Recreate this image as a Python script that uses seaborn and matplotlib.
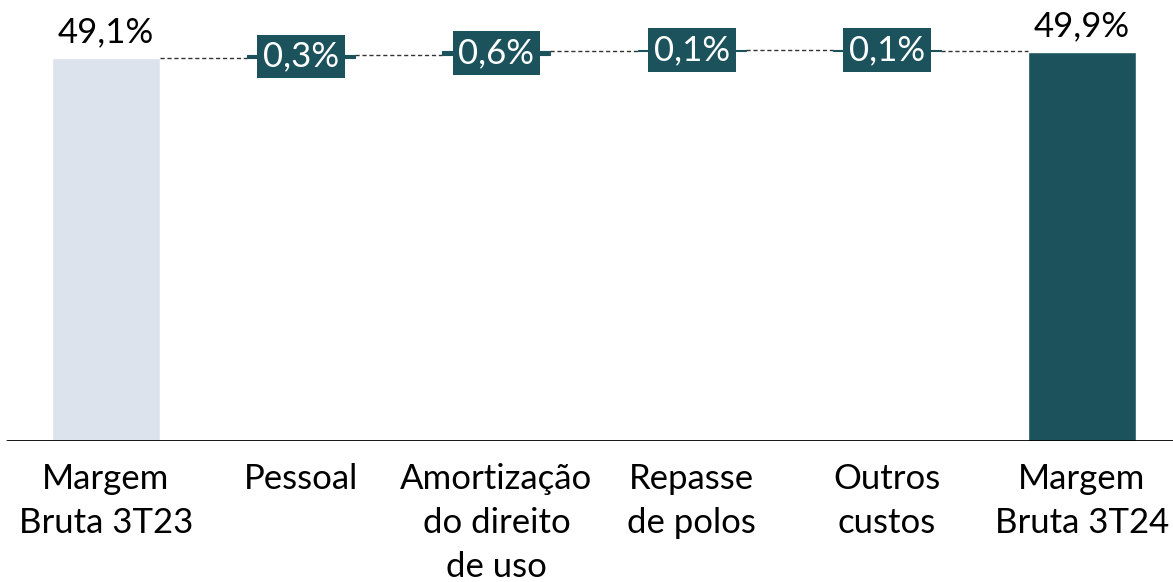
import matplotlib.pyplot as plt
import seaborn as sns
import pandas as pd

# Dados do gráfico (margem bruta, ponte 3T23 -> 3T24)
categorias = ["Margem\nBruta 3T23", "Pessoal", "Amortização\ndo direito\nde uso",
              "Repasse\nde polos", "Outros\ncustos", "Margem\nBruta 3T24"]
margem_inicial = 49.1
variacoes = [0.3, 0.6, 0.1, -0.1]
margem_final = 49.9

COR_CLARA = "#DDE3ED"
COR_ESCURA = "#1B525C"
FONTE = ["Lato", "DejaVu Sans"]
LARGURA = 0.553

sns.set_theme(style="white")
plt.rcParams['font.family'] = FONTE

fig = plt.figure(figsize=(11.73, 5.82), dpi=100)
ax = fig.add_axes([0, 0.2423, 1, 0.7577])

# Barras totais (início e fim)
totais = [margem_inicial, 0, 0, 0, 0, margem_final]
df = pd.DataFrame({"Categoria": categorias, "Valor": totais})
sns.barplot(data=df, x="Categoria", y="Valor", hue="Categoria",
            palette=[COR_CLARA, COR_ESCURA, COR_ESCURA, COR_ESCURA, COR_ESCURA, COR_ESCURA],
            width=LARGURA, legend=False, ax=ax, saturation=1)

# Barras flutuantes
nivel = margem_inicial
niveis = [margem_inicial]
for i, v in enumerate(variacoes, start=1):
    ax.bar(i, v, bottom=nivel, width=LARGURA, color=COR_ESCURA,
           edgecolor=COR_ESCURA, lw=0.8, zorder=2)
    ax.text(i, nivel + v / 2, f"{abs(v):.1f}%".replace(".", ","), ha="center", va="center",
            color="white", fontsize=25, family=FONTE, zorder=4,
            bbox=dict(boxstyle="square,pad=0.17", fc=COR_ESCURA, ec="none"))
    nivel += v
    niveis.append(nivel)
niveis.append(margem_final)

# Conectores tracejados
for i in range(len(categorias) - 1):
    ax.plot([i + LARGURA / 2, i + 1 - LARGURA / 2], [niveis[i], niveis[i]],
            color="#333333", lw=1.0, ls=(0, (3, 2)), zorder=1)

# Rótulos das barras totais
for i, v in [(0, margem_inicial), (5, margem_final)]:
    ax.text(i, v + 1.2, f"{v:.1f}%".replace(".", ","), ha="center", va="bottom",
            color="black", fontsize=25, family=FONTE)

ax.set_xlim(-0.543, 5.466)
ax.set_ylim(0, 56.5)
ax.axhline(0, xmin=7 / 1173, xmax=1, color="black", lw=2, zorder=5)
for s in ax.spines.values():
    s.set_visible(False)
ax.set_yticks([])
ax.set_xlabel("")
ax.set_ylabel("")
ax.tick_params(axis="x", length=0, pad=16)
ax.set_xticks(range(len(categorias)))
ax.set_xticklabels(categorias, fontsize=25, color="black", linespacing=1.45)

fig.savefig("out.png", dpi=100)
